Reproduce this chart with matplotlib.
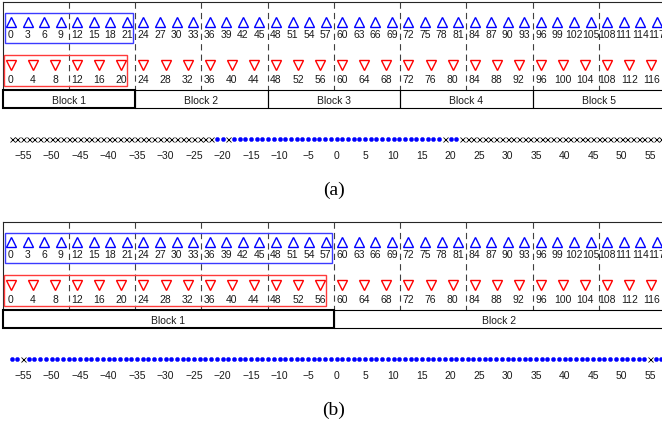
import matplotlib
matplotlib.use('Agg')
import matplotlib.pyplot as plt
from matplotlib.patches import Rectangle

plt.rcParams['font.family'] = ['Liberation Sans', 'DejaVu Sans']
plt.rcParams['lines.scale_dashes'] = False

# ---------------- data ----------------
ula1 = [0, 3, 6, 9, 12, 15, 18, 21, 24, 27, 30, 33, 36, 39, 42, 45, 48, 51, 54, 57,
        60, 63, 66, 69, 72, 75, 78, 81, 84, 87, 90, 93, 96, 99, 102, 105, 108, 111, 114, 117]
ula2 = [0, 4, 8, 12, 16, 20, 24, 28, 32, 36, 40, 44, 48, 52, 56,
        60, 64, 68, 72, 76, 80, 84, 88, 92, 96, 100, 104, 108, 112, 116]
block_len_a = 24
block_len_b = 60
blocks_a = ['Block 1', 'Block 2', 'Block 3', 'Block 4', 'Block 5']
blocks_b = ['Block 1', 'Block 2']
lags = list(range(-57, 58))
present_a = [-21, -20, -18, -17, -16, -15, -14, -13, -12, -11, -10, -9, -8, -7, -6, -5,
             -4, -3, -2, -1, 0, 1, 2, 3, 4, 5, 6, 7, 8, 9, 10, 11, 12, 13, 14, 15, 16,
             17, 18, 20, 21]
holes_b = [-55, 55]
lag_ticks = [-55, -50, -45, -40, -35, -30, -25, -20, -15, -10, -5, 0,
             5, 10, 15, 20, 25, 30, 35, 40, 45, 50, 55]
captions = ['(a)', '(b)']

# ---------------- layout ----------------
W, H = 662, 428
fig = plt.figure(figsize=(W / 100, H / 100), dpi=100)

pos0_px, pos_scale = 11.0, 5.52
lag0_px, lag_scale = 336.5, 5.7
edge = -1.5          # left edge of first block (position units)
dash_step = 12

axp = fig.add_axes([0, 0, 1, 1])
axp.set_xlim(-pos0_px / pos_scale, (W - pos0_px) / pos_scale)
axp.set_ylim(H, 0)
axp.axis('off')
axp.patch.set_alpha(0)

axl = fig.add_axes([0, 0, 1, 1])
axl.set_xlim(-lag0_px / lag_scale, (W - lag0_px) / lag_scale)
axl.set_ylim(H, 0)
axl.axis('off')
axl.patch.set_alpha(0)

FS = 7.5
xmax_pos = axp.get_xlim()[1]


def draw_panel(T, block_len, block_names, present, holes, caption):
    ytop = T + 1.5
    ybar0, ybar1 = T + 90, T + 108
    # frame lines
    axp.plot([edge, xmax_pos + 5], [ytop, ytop], color='0.15', lw=0.8, zorder=1)
    axp.plot([edge, edge], [ytop, ybar0], color='0.15', lw=0.8, zorder=1)
    # dashed lines
    x = edge + dash_step
    while x < xmax_pos + 5:
        axp.plot([x, x], [ytop, ybar0], color='0.25', lw=0.8,
                 dashes=(4.5, 3.0), zorder=1)
        x += dash_step
    # sensors
    axp.plot(ula1, [T + 21.5] * len(ula1), ls='none', marker='^', ms=7,
             mfc='none', mec='blue', mew=1.0, zorder=3)
    for p in ula1:
        axp.text(p, T + 38.3, str(p), ha='center', va='baseline', fontsize=FS,
                 color='0.1', zorder=3)
    axp.plot(ula2, [T + 65.3] * len(ula2), ls='none', marker='v', ms=7,
             mfc='none', mec='red', mew=1.0, zorder=3)
    for p in ula2:
        axp.text(p, T + 83.3, str(p), ha='center', va='baseline', fontsize=FS,
                 color='0.1', zorder=3)
    # first-block boxes
    b_end = edge + block_len
    s1 = [p for p in ula1 if p < b_end]
    s2 = [p for p in ula2 if p < b_end]
    axp.add_patch(Rectangle((min(s1) - 1.1, T + 13), max(s1) - min(s1) + 2.2, 30,
                            fill=False, ec='#3a3aff', lw=1.0, zorder=2))
    axp.add_patch(Rectangle((min(s2) - 1.2, T + 55), max(s2) - min(s2) + 2.3, 31,
                            fill=False, ec='#ff3a3a', lw=1.0, zorder=2))
    # block bar
    for i, name in enumerate(block_names):
        x0 = edge + i * block_len
        lw = 1.5 if i == 0 else 0.8
        axp.add_patch(Rectangle((x0, ybar0), block_len, ybar1 - ybar0, fill=False,
                                ec='black', lw=lw, zorder=4 if i == 0 else 3))
        axp.text(x0 + block_len / 2, T + 104, name, ha='center', va='baseline',
                 fontsize=FS, color='0.1')
    # difference coarray
    ym = T + 139
    filled = [l for l in lags if (present is None or l in present) and l not in holes]
    empty = [l for l in lags if l not in filled]
    axl.plot(filled, [ym] * len(filled), ls='none', marker='o', ms=3.0,
             mfc='blue', mec='blue', mew=0.3)
    axl.plot(empty, [ym] * len(empty), ls='none', marker='x', ms=3.6,
             mec='black', mew=0.6)
    for t in lag_ticks:
        lab = str(t).replace('-', '\u2212')
        axl.text(t, T + 159.3, lab, ha='center', va='baseline', fontsize=FS,
                 color='0.1')
    # caption
    fig.text(334 / W, 1 - (T + 190.5) / H, caption, ha='center', va='center',
             fontsize=14, family=['Liberation Serif', 'DejaVu Serif'])


draw_panel(0, block_len_a, blocks_a, present_a, [], captions[0])
draw_panel(220, block_len_b, blocks_b, None, holes_b, captions[1])

fig.savefig('out.png', dpi=100)
